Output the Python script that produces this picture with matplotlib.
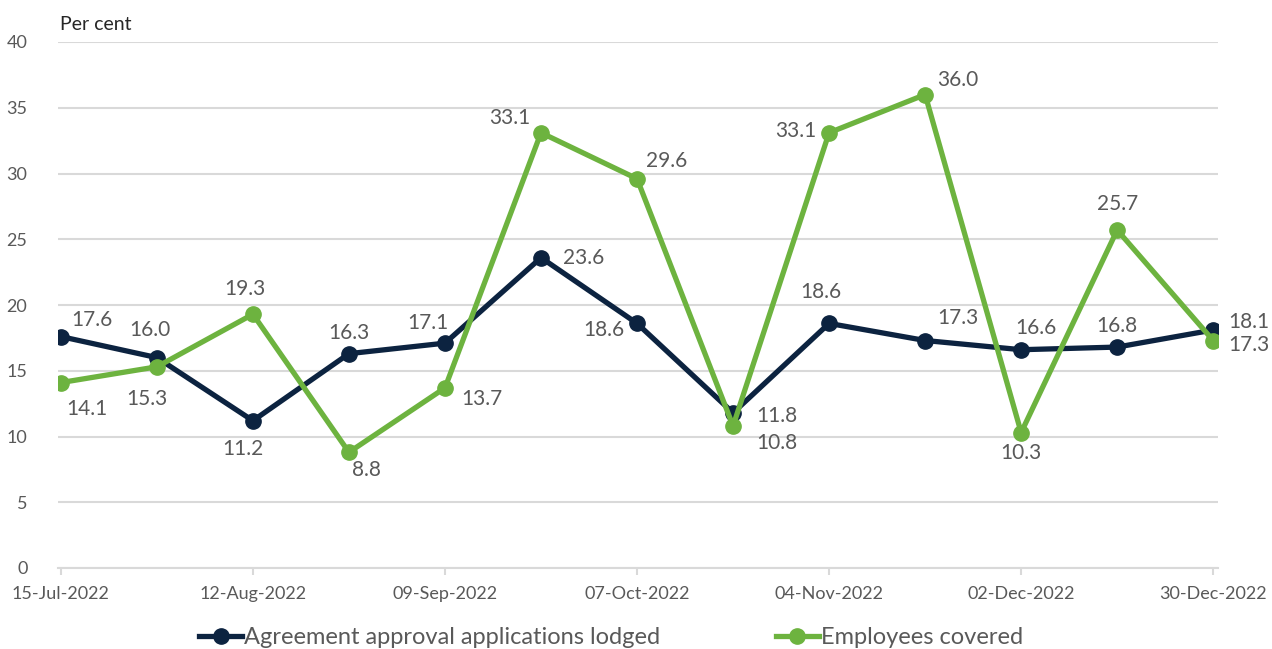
import matplotlib
matplotlib.use("Agg")
import matplotlib.pyplot as plt

dates = ["15-Jul-2022", "29-Jul-2022", "12-Aug-2022", "26-Aug-2022", "09-Sep-2022",
         "23-Sep-2022", "07-Oct-2022", "21-Oct-2022", "04-Nov-2022", "18-Nov-2022",
         "02-Dec-2022", "16-Dec-2022", "30-Dec-2022"]
applications = [17.6, 16.0, 11.2, 16.3, 17.1, 23.6, 18.6, 11.8, 18.6, 17.3, 16.6, 16.8, 18.1]
employees = [14.1, 15.3, 19.3, 8.8, 13.7, 33.1, 29.6, 10.8, 33.1, 36.0, 10.3, 25.7, 17.3]

# label offsets in pixels (dx, dy up)
app_offsets = [(31, 17), (-7, 28), (-10, -28), (0, 21), (-17, 20), (43, 0), (-33, -7),
               (44, -3), (-8, 31), (33, 23), (15, 22), (0, 21), (36, 8)]
emp_offsets = [(26, -26), (-10, -32), (-8, 25), (17, -18), (37, -11), (-31, 15), (30, 18),
               (44, -17), (-33, 2), (33, 15), (0, -20), (0, 26), (36, -4)]

navy = "#0C2340"
green = "#6DB33F"
grey = "#595959"

plt.rcParams["font.family"] = ["Lato", "DejaVu Sans"]

fig = plt.figure(figsize=(12.72, 6.49), dpi=100)
ax = fig.add_axes([58 / 1272, 81 / 649, 1160 / 1272, 526 / 649])

x = list(range(len(dates)))
ax.plot(x, applications, color=navy, lw=3.8, marker="o", ms=11, zorder=3,
        label="Agreement approval applications lodged")
ax.plot(x, employees, color=green, lw=3.8, marker="o", ms=11, zorder=4,
        label="Employees covered")

for xi, v, off in zip(x, applications, app_offsets):
    ax.annotate(f"{v:.1f}", (xi, v), xytext=off, textcoords="offset pixels",
                ha="center", va="center", fontsize=15, color=grey, zorder=5)
for xi, v, off in zip(x, employees, emp_offsets):
    ax.annotate(f"{v:.1f}", (xi, v), xytext=off, textcoords="offset pixels",
                ha="center", va="center", fontsize=15, color=grey, zorder=5)

ax.set_xlim(-0.03, 12.05)
ax.set_ylim(0, 40)
ax.set_yticks(range(0, 41, 5))
ax.set_xticks(x[::2])
ax.set_xticklabels(dates[::2])
ax.grid(axis="y", color="#D9D9D9", lw=1.5)
ax.set_axisbelow(True)
for s in ["top", "right", "left"]:
    ax.spines[s].set_visible(False)
ax.spines["bottom"].set_color("#D9D9D9")
ax.spines["bottom"].set_linewidth(1.5)
ax.tick_params(axis="x", length=5, width=1.5, color="#D9D9D9", pad=8,
               labelsize=13, labelcolor=grey)
ax.tick_params(axis="y", length=0, pad=22, labelsize=13, labelcolor=grey)

fig.text(60 / 1272, 1 - 24 / 649, "Per cent", fontsize=14, color="#262626",
         ha="left", va="center")

ax.legend(loc="center", bbox_to_anchor=(0.477, -0.132), ncol=2, frameon=False,
          fontsize=17, labelcolor=grey, handlelength=1.8, handletextpad=0.1,
          columnspacing=4.9, markerscale=1.0)

fig.savefig("out.png", dpi=100)
